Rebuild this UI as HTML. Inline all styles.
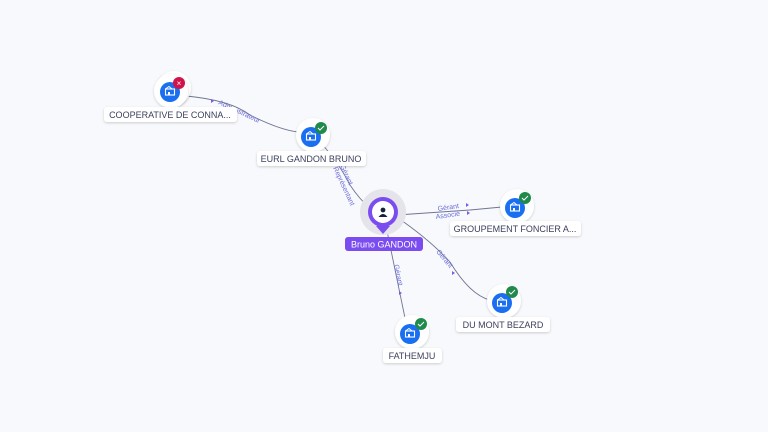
<!DOCTYPE html>
<html><head><style>
body{margin:0;background:#f8f9fc;}
svg{display:block;font-family:"Liberation Sans",sans-serif;}
.lbl{font-size:9px;fill:#3a3f5c;}
.el{font-size:7px;fill:#6b6bdc;}
</style></head><body>
<svg width="768" height="432" viewBox="0 0 768 432">
<defs>
<filter id="sh" x="-50%" y="-50%" width="200%" height="200%"><feDropShadow dx="0" dy="1" stdDeviation="1.2" flood-color="#000" flood-opacity="0.18"/></filter>
<g id="bld"><rect x="-4.5" y="-3" width="9" height="6" fill="none" stroke="#fff" stroke-width="1.1"/><path d="M-4.5,-3 L-1,-5.5 L2,-3" fill="none" stroke="#fff" stroke-width="1"/><rect x="-2" y="0" width="2" height="3" fill="#fff"/></g>
</defs>
<g fill="none" stroke="#6f7590" stroke-width="0.9">
<path d="M186,96 Q230,100 250,115 Q280,130 298,132"/>
<path d="M322,144 Q340,165 350,185 Q360,200 370,208"/>
<path d="M397,215 L470,210 L502,207"/>
<path d="M398,218 Q430,240 450,262 Q470,295 490,300"/>
<path d="M386,226 Q395,270 405,318"/>
</g>
<g class="el">
<text x="218" y="104" transform="rotate(25 218 104)">Administrateur</text>
<text x="340" y="166" transform="rotate(65 340 166)">Gérant</text>
<text x="333" y="168" transform="rotate(65 333 168)">Représentant</text>
<text x="438" y="211" transform="rotate(-8 438 211)">Gérant</text>
<text x="436" y="219" transform="rotate(-8 436 219)">Associé</text>
<text x="436" y="252" transform="rotate(50 436 252)">Gérant</text>
<text x="394" y="265" transform="rotate(78 394 265)">Gérant</text>
</g>
<g fill="#7b5cf0">
<path d="M211,99 l3,2 l-3,2z"/><path d="M466,203 l3,2 l-3,2z"/><path d="M467,211 l3,2 l-3,2z"/>
<path d="M452,271 l3,2 l-3,2z"/><path d="M399,291 l3,2 l-3,2z"/>
</g>
<!-- nodes -->
<g>
<circle cx="174" cy="88" r="17" fill="#fff" filter="url(#sh)"/>
<circle cx="171" cy="91" r="17" fill="#fff" filter="url(#sh)"/>
<circle cx="170" cy="92" r="10" fill="#1a6ef0"/><use href="#bld" x="170" y="92"/>
<circle cx="179" cy="83" r="6" fill="#d1134b"/><text x="179" y="86" font-size="8" fill="#fff" text-anchor="middle">×</text>
<rect x="104" y="107" width="133" height="15" rx="3" fill="#fff" filter="url(#sh)"/>
<text class="lbl" x="170" y="118" text-anchor="middle">COOPERATIVE DE CONNA...</text>

<circle cx="313" cy="135" r="17" fill="#fff" filter="url(#sh)"/>
<circle cx="311" cy="137" r="10" fill="#1a6ef0"/><use href="#bld" x="311" y="137"/>
<circle cx="321" cy="128" r="6" fill="#1f8a4c"/><path d="M318,128 l2,2 l4,-4" stroke="#fff" stroke-width="1" fill="none"/>
<rect x="257" y="151" width="109" height="15" rx="3" fill="#fff" filter="url(#sh)"/>
<text class="lbl" x="311" y="162" text-anchor="middle">EURL GANDON BRUNO</text>

<circle cx="517" cy="206" r="17" fill="#fff" filter="url(#sh)"/>
<circle cx="515" cy="208" r="10" fill="#1a6ef0"/><use href="#bld" x="515" y="208"/>
<circle cx="525" cy="198" r="6" fill="#1f8a4c"/><path d="M522,198 l2,2 l4,-4" stroke="#fff" stroke-width="1" fill="none"/>
<rect x="450" y="221" width="131" height="15" rx="3" fill="#fff" filter="url(#sh)"/>
<text class="lbl" x="515" y="232" text-anchor="middle">GROUPEMENT FONCIER A...</text>

<circle cx="504" cy="301" r="17" fill="#fff" filter="url(#sh)"/>
<circle cx="502" cy="303" r="10" fill="#1a6ef0"/><use href="#bld" x="502" y="303"/>
<circle cx="512" cy="292" r="6" fill="#1f8a4c"/><path d="M509,292 l2,2 l4,-4" stroke="#fff" stroke-width="1" fill="none"/>
<rect x="456" y="317" width="94" height="15" rx="3" fill="#fff" filter="url(#sh)"/>
<text class="lbl" x="503" y="328" text-anchor="middle">DU MONT BEZARD</text>

<circle cx="412" cy="332" r="17" fill="#fff" filter="url(#sh)"/>
<circle cx="410" cy="334" r="10" fill="#1a6ef0"/><use href="#bld" x="410" y="334"/>
<circle cx="421" cy="324" r="6" fill="#1f8a4c"/><path d="M418,324 l2,2 l4,-4" stroke="#fff" stroke-width="1" fill="none"/>
<rect x="383" y="348" width="59" height="15" rx="3" fill="#fff" filter="url(#sh)"/>
<text class="lbl" x="412" y="359" text-anchor="middle">FATHEMJU</text>

<circle cx="383" cy="212" r="23" fill="#e4e4ea"/>
<path d="M376,226 L383,234 L390,226z" fill="#7b4cf0"/>
<circle cx="383" cy="212" r="15" fill="#7b4cf0"/>
<circle cx="383" cy="212" r="11" fill="#fff"/>
<circle cx="383" cy="210" r="2.4" fill="#1a1f3a"/><path d="M378.5,217 Q383,211 387.5,217z" fill="#1a1f3a"/>
<rect x="345" y="237" width="78" height="14" rx="3" fill="#7b4cf0"/>
<text x="384" y="247.5" font-size="9" fill="#fff" text-anchor="middle">Bruno GANDON</text>
</g>
</svg>
</body></html>
